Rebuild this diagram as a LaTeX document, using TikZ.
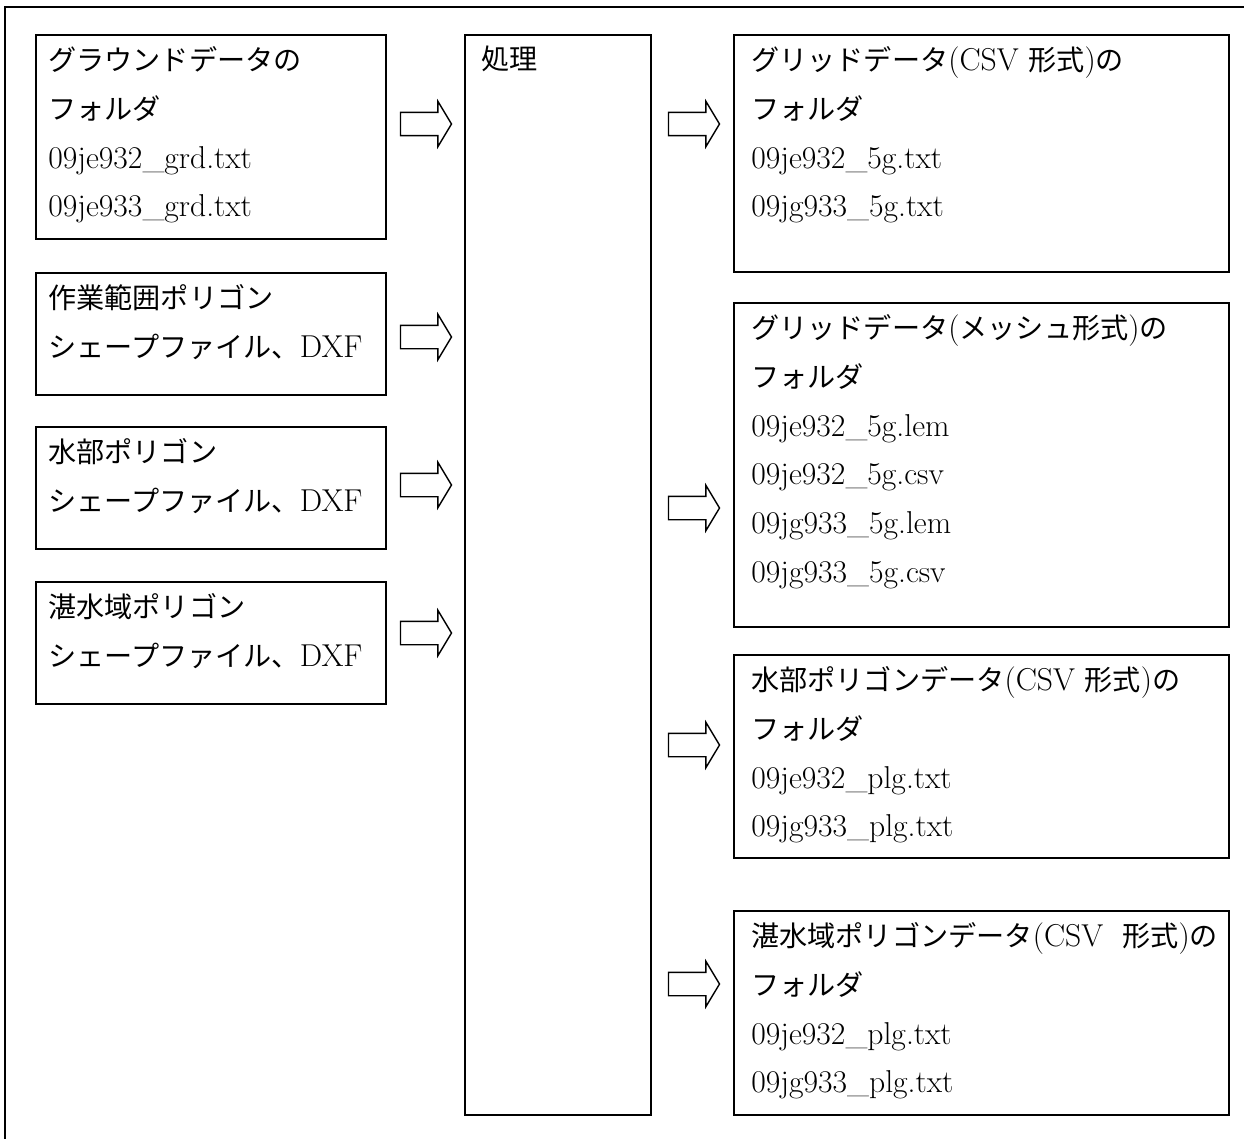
\documentclass[tikz,border=0pt]{standalone}
\usepackage{fontspec}
\newfontfamily\jfont[Scale=0.89]{Noto Sans CJK JP}
\newcommand{\jtx}[1]{{\jfont #1}}
\usetikzlibrary{shapes.arrows}
\tikzstyle{bx}=[draw, line width=1pt, inner sep=0pt, anchor=north west]
\tikzstyle{tx}=[anchor=north west, align=left, inner sep=0pt, font=\fontsize{18}{27.8}\selectfont]
\tikzstyle{ar}=[draw, line width=0.8pt, single arrow, single arrow head extend=0.22cm, single arrow tip angle=118, minimum height=1.02cm, inner xsep=0pt, inner ysep=0.22cm]

\begin{document}
\begin{tikzpicture} [x=0.02cm, y=-0.02cm]
%%frame
\useasboundingbox (0,0) rectangle (1244,1139);
\draw[line width=0.8pt] (5,1139) -- (5,7) -- (1244,7);
%%input
%%ground data
\node[bx, minimum width=7cm, minimum height=4.08cm] (gnd) at (35,34) {};
\node[tx] (gndt) at ([shift={(13,12)}]gnd.north west) {\jtx{グラウンドデータの}\\ \jtx{フォルダ}\\ 09je932\_grd.txt\\ 09je933\_grd.txt};
%%work area
\node[bx, minimum width=7cm, minimum height=2.44cm] (area) at (35,272) {};
\node[tx] (areat) at ([shift={(13,12)}]area.north west) {\jtx{作業範囲ポリゴン}\\ \jtx{シェープファイル、}DXF};
%%water
\node[bx, minimum width=7cm, minimum height=2.44cm] (wat) at (35,426) {};
\node[tx] (watt) at ([shift={(13,12)}]wat.north west) {\jtx{水部ポリゴン}\\ \jtx{シェープファイル、}DXF};
%%flooded
\node[bx, minimum width=7cm, minimum height=2.44cm] (fld) at (35,581) {};
\node[tx] (fldt) at ([shift={(13,12)}]fld.north west) {\jtx{湛水域ポリゴン}\\ \jtx{シェープファイル、}DXF};
%%arrows in
\node[ar] (ain1) at (422.5,124) {};
\node[ar] (ain2) at (422.5,337) {};
\node[ar] (ain3) at (422.5,485) {};
\node[ar] (ain4) at (422.5,633) {};
%%process
\node[bx, minimum width=3.72cm, minimum height=21.6cm] (proc) at (464,34) {};
\node[tx] (proct) at ([shift={(17,12)}]proc.north west) {\jtx{処理}};
%%arrows out
\node[ar] (aout1) at (690.5,124) {};
\node[ar] (aout2) at (690.5,508) {};
\node[ar] (aout3) at (690.5,745) {};
\node[ar] (aout4) at (690.5,984) {};
%%output
%%grid csv
\node[bx, minimum width=9.9cm, minimum height=4.74cm] (gcsv) at (733,34) {};
\node[tx] (gcsvt) at ([shift={(18,12)}]gcsv.north west) {\jtx{グリッドデータ}(CSV \jtx{形式})\jtx{の}\\ \jtx{フォルダ}\\ 09je932\_5g.txt\\ 09jg933\_5g.txt};
%%grid mesh
\node[bx, minimum width=9.9cm, minimum height=6.48cm] (gmsh) at (733,302) {};
\node[tx] (gmsht) at ([shift={(18,12)}]gmsh.north west) {\jtx{グリッドデータ}(\jtx{メッシュ形式})\jtx{の}\\ \jtx{フォルダ}\\ 09je932\_5g.lem\\ 09je932\_5g.csv\\ 09jg933\_5g.lem\\ 09jg933\_5g.csv};
%%water polygon
\node[bx, minimum width=9.9cm, minimum height=4.06cm] (wplg) at (733,654) {};
\node[tx] (wplgt) at ([shift={(18,12)}]wplg.north west) {\jtx{水部ポリゴンデータ}(CSV \jtx{形式})\jtx{の}\\ \jtx{フォルダ}\\ 09je932\_plg.txt\\ 09jg933\_plg.txt};
%%flooded polygon
\node[bx, minimum width=9.9cm, minimum height=4.08cm] (fplg) at (733,910) {};
\node[tx] (fplgt) at ([shift={(18,12)}]fplg.north west) {\jtx{湛水域ポリゴンデータ}(CSV~~\jtx{形式})\jtx{の}\\ \jtx{フォルダ}\\ 09je932\_plg.txt\\ 09jg933\_plg.txt};
\end{tikzpicture}
\end{document}
